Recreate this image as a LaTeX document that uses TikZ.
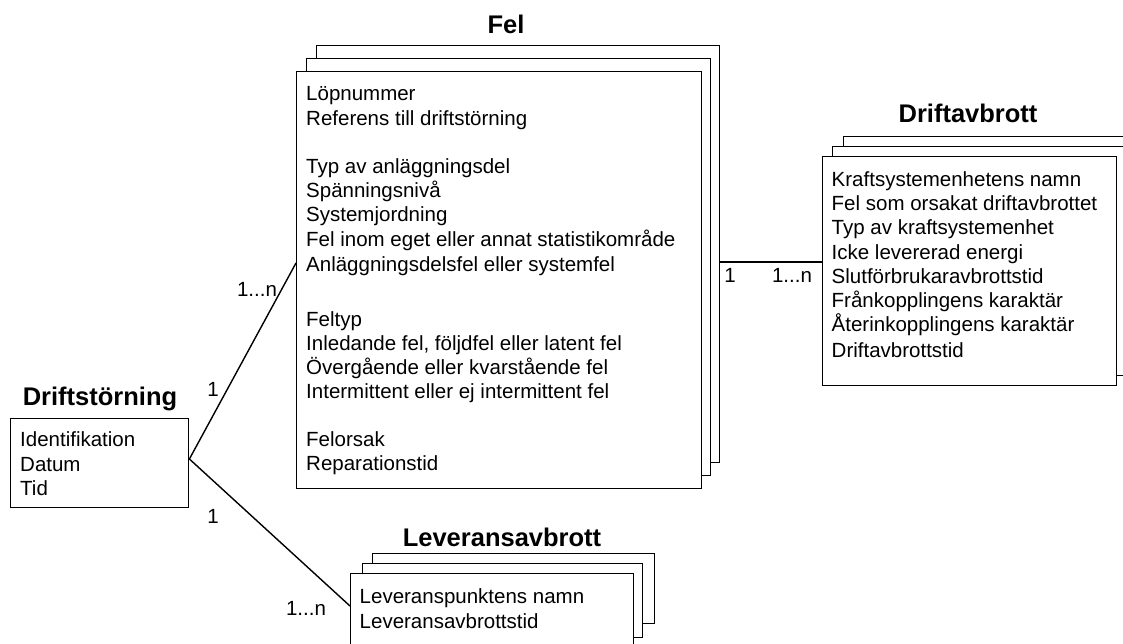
\documentclass[tikz,border=0pt]{standalone}
\usepackage{fontspec}
\setmainfont{Liberation Sans}
\usetikzlibrary{calc}
\tikzset{
  stk/.style={draw=black, fill=white, line width=1.4pt, inner sep=0pt, anchor=north west},
  txt/.style={inner sep=0pt, anchor=base west, font=\fontsize{20.5}{24}\selectfont},
  lbl/.style={inner sep=0pt, anchor=base, font=\fontsize{20.5}{24}\selectfont},
  ttl/.style={inner sep=0pt, anchor=base, font=\fontsize{25.5}{30}\selectfont\bfseries},
  conn/.style={draw=black, line width=1.4pt}
}
\begin{document}
\begin{tikzpicture}[x=1pt, y=-1pt]
\useasboundingbox (0,0) rectangle (1123,644);
\clip (0,0) rectangle (1123,644);

% ---- Fel stack ----
\node[stk, minimum width=403, minimum height=417] (felB) at (316,45) {};
\node[stk, minimum width=404, minimum height=417] (felM) at (306,58) {};
\node[stk, minimum width=405, minimum height=417] (felF) at (296,71) {};
\node[ttl] (felT) at (506,34) {Fel};
\foreach \t/\y [count=\i] in {
  Löpnummer/101, Referens till driftstörning/126,
  Typ av anläggningsdel/174, Spänningsnivå/198, Systemjordning/222,
  Fel inom eget eller annat statistikområde/246,
  Anläggningsdelsfel eller systemfel/271,
  Feltyp/326, {Inledande fel, följdfel eller latent fel}/350,
  Övergående eller kvarstående fel/374,
  Intermittent eller ej intermittent fel/398,
  Felorsak/446, Reparationstid/470}
  \node[txt] (felt\i) at (306,\y) {\t};

% ---- Driftavbrott stack ----
\node[stk, minimum width=295, minimum height=229] (dvB) at (843,136) {};
\node[stk, minimum width=295, minimum height=229] (dvM) at (832,146) {};
\node[stk, minimum width=294, minimum height=229] (dvF) at (822,156) {};
\node[ttl] (dvT) at (968,123) {Driftavbrott};
\foreach \t/\y [count=\i] in {
  Kraftsystemenhetens namn/187, Fel som orsakat driftavbrottet/211,
  Typ av kraftsystemenhet/235, Icke levererad energi/259,
  Slutförbrukaravbrottstid/283, Frånkopplingens karaktär/307,
  Återinkopplingens karaktär/331, Driftavbrottstid/357}
  \node[txt] (dvt\i) at (831.5,\y) {\t};

% ---- Driftstörning ----
\node[stk, minimum width=178, minimum height=89] (ds) at (10,418) {};
\node[ttl] (dsT) at (100,405) {Driftstörning};
\foreach \t/\y [count=\i] in {Identifikation/446, Datum/471, Tid/495}
  \node[txt] (dst\i) at (20,\y) {\t};

% ---- Leveransavbrott stack ----
\node[stk, minimum width=282, minimum height=70] (levB) at (372,553) {};
\node[stk, minimum width=280, minimum height=74] (levM) at (362,563) {};
\node[stk, minimum width=283, minimum height=80] (levF) at (350,573) {};
\node[ttl] (levT) at (502,546) {Leveransavbrott};
\foreach \t/\y [count=\i] in {Leveranspunktens namn/603, Leveransavbrottstid/628}
  \node[txt] (levt\i) at (359.5,\y) {\t};

% ---- connectors ----
\draw[conn] ($(ds.north east)+(0,41)$) -- ($(felF.north west)+(0,192)$);
\draw[conn] ($(ds.north east)+(0,41)$) -- ($(levF.north west)+(0,33)$);
\draw[conn] ($(felB.north east)+(0,217)$) -- ($(dvF.north west)+(0,106)$);

% ---- multiplicity labels ----
\node[lbl] (m1) at (257,296) {1...n};
\node[lbl] (m2) at (213,396) {1};
\node[lbl] (m3) at (213,523) {1};
\node[lbl] (m4) at (306,615) {1...n};
\node[lbl] (m5) at (730,282) {1};
\node[lbl] (m6) at (792,282) {1...n};
\end{tikzpicture}
\end{document}
